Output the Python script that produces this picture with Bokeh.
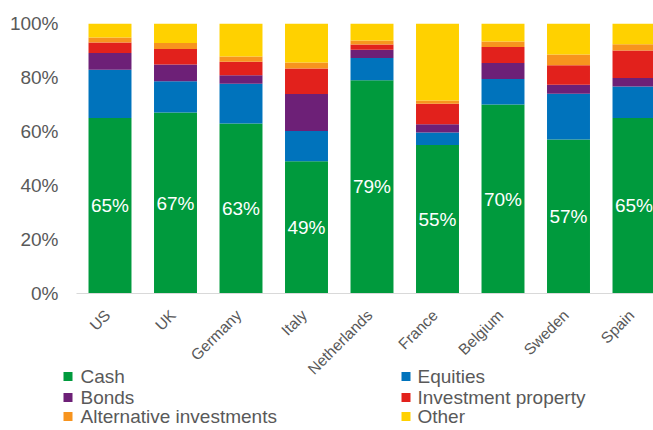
import math
from bokeh.plotting import figure
from bokeh.models import ColumnDataSource, FixedTicker, Range1d
from bokeh.embed import file_html
from bokeh.resources import INLINE
from bokeh.core.properties import value

countries = ["US", "UK", "Germany", "Italy", "Netherlands", "France", "Belgium", "Sweden", "Spain"]
cash = [65, 67, 63, 49, 79, 55, 70, 57, 65]
equities = [17.9, 11.6, 14.7, 11.2, 8.2, 4.6, 9.4, 17.0, 11.7]
bonds = [6.2, 6.2, 3.1, 13.7, 3.1, 3.1, 6.0, 3.3, 3.1]
investment_property = [3.9, 5.8, 5.0, 9.4, 1.9, 7.6, 5.9, 7.2, 10.2]
alternative = [1.8, 2.2, 2.0, 2.3, 1.5, 1.2, 2.0, 4.0, 2.3]
other = [5.2, 7.2, 12.2, 14.4, 6.3, 28.5, 6.7, 11.5, 7.7]

series = ["cash", "equities", "bonds", "investment_property", "alternative", "other"]
names = ["Cash", "Equities", "Bonds", "Investment property", "Alternative investments", "Other"]
colors = ["#009A3D", "#0073BC", "#6D2077", "#E2211C", "#F7941E", "#FFD100"]
y_ticks = [0, 20, 40, 60, 80, 100]

FONT = "Liberation Sans"
GRAY = "#595959"

# layout constants (pixels)
W, H = 653, 430
FRAME_LEFT, FRAME_TOP = 60, 23
X0_PX, DX_PX = 109.5, 65.5          # centre of first category, spacing
BASE_PX, PX_PER_UNIT = 293, 2.7     # y pixel of 0%, pixels per %


def xd(px):
    return (px - X0_PX) / DX_PX


def yd(py):
    return (BASE_PX - py) / PX_PER_UNIT


x = list(range(len(countries)))
src = ColumnDataSource(dict(
    x=x, cash=cash, equities=equities, bonds=bonds,
    investment_property=investment_property, alternative=alternative, other=other,
    label_y=[c / 2 for c in cash], label=[f"{c}%" for c in cash],
    country=countries, zero=[0] * len(countries),
))

p = figure(width=W, height=H, output_backend="svg", toolbar_location=None, tools="",
           x_range=Range1d(xd(FRAME_LEFT), xd(W)), y_range=Range1d(yd(H), yd(FRAME_TOP)),
           min_border_left=FRAME_LEFT, min_border_right=0, min_border_top=FRAME_TOP,
           min_border_bottom=0)
p.outline_line_color = None
p.xgrid.visible = False
p.ygrid.visible = False
p.xaxis.visible = False

rs = p.vbar_stack(series, x="x", width=0.656, fill_color=colors, line_color=None, source=src)

# baseline
p.segment(x0=xd(76), x1=xd(W), y0=0, y1=0, line_color="#d9d9d9", line_width=1.2)

# value labels on cash
p.text(x="x", y="label_y", text="label", source=src, text_color="white",
       text_align="center", text_baseline="middle",
       text_font=value(FONT), text_font_size="19px")

# category labels (rotated)
p.text(x="x", y="zero", text="country", source=src, angle=math.pi / 4,
       text_align="right", text_baseline="middle", x_offset=-2.5, y_offset=19,
       text_color=GRAY, text_font=value(FONT), text_font_size="15.5px")

ya = p.yaxis[0]
ya.ticker = FixedTicker(ticks=y_ticks)
ya.major_label_overrides = {t: f"{t}%" for t in y_ticks}
ya.axis_line_color = None
ya.major_tick_line_color = None
ya.minor_tick_line_color = None
ya.major_tick_out = 0
ya.major_tick_in = 0
ya.major_label_text_font = FONT
ya.major_label_text_font_size = "19px"
ya.major_label_text_color = GRAY
ya.major_label_standoff = 2

# legend (two columns, three rows)
order = [0, 2, 4, 1, 3, 5]
col_sq_px = [67.5, 405.5]
col_tx_px = [80, 417]
row_px = [376, 397, 416]
leg = dict(sx=[], sy=[], tx=[], name=[], color=[])
for k, i in enumerate(order):
    c, r = divmod(k, 3)
    leg["sx"].append(xd(col_sq_px[c]))
    leg["tx"].append(xd(col_tx_px[c]))
    leg["sy"].append(yd(row_px[r]))
    leg["name"].append(names[i])
    leg["color"].append(colors[i])
lsrc = ColumnDataSource(leg)
p.scatter(x="sx", y="sy", marker="square", size=9, fill_color="color", line_color=None, source=lsrc)
p.text(x="tx", y="sy", text="name", source=lsrc, text_align="left", text_baseline="middle",
       text_color=GRAY, text_font=value(FONT), text_font_size="19px")

open("out.html", "w").write(file_html(p, INLINE))
